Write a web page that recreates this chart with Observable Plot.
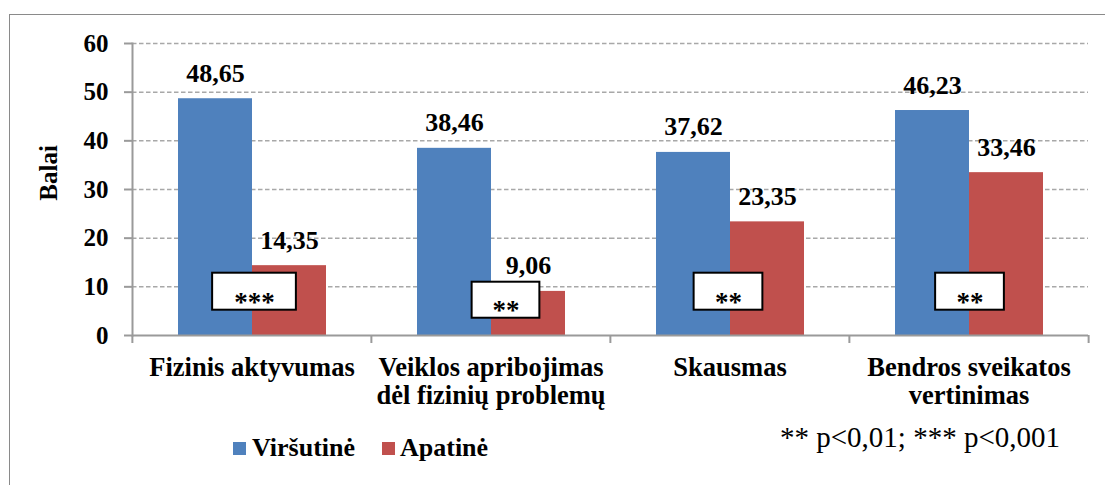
<!DOCTYPE html>
<html>
<head>
<meta charset="utf-8">
<script src="https://cdn.jsdelivr.net/npm/d3@7"></script>
<script src="https://cdn.jsdelivr.net/npm/@observablehq/plot@0.6"></script>
<style>
  html, body { margin: 0; padding: 0; background: #fff; overflow: hidden; }
  #wrap { position: relative; width: 1105px; height: 485px; overflow: hidden; background: #fff;
          font-family: 'Liberation Serif', serif; color: #000; }
  #frame { position: absolute; left: 9px; top: 14px; width: 1200px; height: 600px;
           border: 1.5px solid #8a8a8a; box-sizing: border-box; }
  #chart { position: absolute; left: 0; top: 0; }
  .leg { position: absolute; font-weight: bold; font-size: 26px; line-height: 26px; white-space: nowrap; }
  .sw { position: absolute; width: 13px; height: 13px; }
  #note { position: absolute; left: 780px; top: 423px; font-size: 29px; line-height: 29px; white-space: nowrap; }
</style>
</head>
<body>
<div id="wrap">
  <div id="frame"></div>
  <div id="chart"></div>
  <div id="legend"></div>
  <div id="note"></div>
</div>
<script>
// ---- data ----
const categories = ["Fizinis aktyvumas", "Veiklos apribojimas dėl fizinių problemų", "Skausmas", "Bendros sveikatos vertinimas"];
const catLabels = ["Fizinis aktyvumas", "Veiklos apribojimas\ndėl fizinių problemų", "Skausmas", "Bendros sveikatos\nvertinimas"];
const series = ["Viršutinė", "Apatinė"];
const upper = [48.65, 38.46, 37.62, 46.23];
const lower = [14.35, 9.06, 23.35, 33.46];
const sigLabels = ["***", "**", "**", "**"];
const yTicks = [0, 10, 20, 30, 40, 50, 60];
const yLabel = "Balai";
const footnote = "** p<0,01; *** p<0,001";

// ---- layout / style ----
const W = 1105, H = 485;
const mL = 131, mR = 17, mT = 43, mB = 150;
const colors = ["#4F81BD", "#C0504D"];
const axisGray = "#9a9a9a";
const FONT = "'Liberation Serif', serif";
const bw = (W - mL - mR) / categories.length;
const boxDx = [2.5, 15, -1.5, 1];
const boxHalfW = [42, 34, 34.5, 34.5];
const boxY1 = [5.2, 3.55, 5.2, 5.2];
const boxY2 = [12.8, 10.95, 12.8, 12.8];
const yLabelAt = 27.7; // vertical centre of the axis title, in value units

const data = [];
categories.forEach((c, i) => {
  data.push({cat: c, series: series[0], value: upper[i]});
  data.push({cat: c, series: series[1], value: lower[i]});
});
const sigData = categories.map((c, i) => ({cat: c, mark: sigLabels[i]}));
const fmt = v => d3.format(".2f")(v).replace(".", ",");

const boxMarks = [];
sigData.forEach((d, i) => {
  boxMarks.push(Plot.rect([d], {
    fx: "cat", y1: boxY1[i], y2: boxY2[i],
    insetLeft: bw / 2 + boxDx[i] - boxHalfW[i],
    insetRight: bw / 2 - boxDx[i] - boxHalfW[i],
    fill: "white", stroke: "black", strokeWidth: 2
  }));
  boxMarks.push(Plot.text([d], {
    fx: "cat", y: boxY1[i], text: "mark", dx: boxDx[i], lineAnchor: "bottom", dy: 1,
    fontSize: 27, fontWeight: "bold", fill: "black", fontFamily: FONT
  }));
});

const chart = Plot.plot({
  width: W, height: H,
  marginLeft: mL, marginRight: mR, marginTop: mT, marginBottom: mB,
  style: {fontFamily: FONT, background: "transparent", overflow: "visible"},
  fx: {domain: categories, paddingInner: 0, paddingOuter: 0},
  x: {domain: series, paddingInner: 0, paddingOuter: 0.606, axis: null},
  y: {domain: [0, 60]},
  color: {domain: series, range: colors},
  marks: [
    Plot.ruleY(yTicks.filter(v => v > 0), {stroke: "#a8a8a8", strokeWidth: 1.5, strokeDasharray: "4.5,2.5"}),
    Plot.barY(data, {fx: "cat", x: "series", y: "value", fill: "series"}),
    Plot.ruleY([0], {stroke: axisGray, strokeWidth: 2}),
    Plot.frame({anchor: "left", facetAnchor: "left", stroke: axisGray, strokeWidth: 2}),
    Plot.axisY({ticks: yTicks, tickSize: 8, tickPadding: 16, fontSize: 25, fontWeight: "bold", fontFamily: FONT,
                stroke: axisGray, strokeWidth: 2, fill: "black", label: null}),
    Plot.axisFx({anchor: "bottom", tickSize: 8, tickFormat: () => "", dx: -bw / 2, stroke: axisGray, strokeWidth: 2, label: null}),
    Plot.axisFx({anchor: "bottom", ticks: [categories[categories.length - 1]], tickSize: 8, tickFormat: () => "", dx: bw / 2, stroke: axisGray, strokeWidth: 2, label: null}),
    Plot.axisFx({anchor: "bottom", tickSize: 0, tickPadding: 20, fontSize: 26.5, fontWeight: "bold", fill: "black", fontFamily: FONT,
                 lineHeight: 1.07, label: null, tickFormat: d => catLabels[categories.indexOf(d)]}),
    Plot.text(data, {fx: "cat", x: "series", y: "value", text: d => fmt(d.value), lineAnchor: "bottom", dy: -17,
                     fontSize: 26, fontWeight: "bold", fill: "black", fontFamily: FONT}),
    ...boxMarks,
    Plot.text([yLabel], {fx: () => categories[0], y: () => yLabelAt, frameAnchor: "left", rotate: -90, dx: -76,
                         lineAnchor: "bottom", fontSize: 25, fontWeight: "bold", fill: "black", fontFamily: FONT})
  ]
});
document.getElementById("chart").appendChild(chart);

const legend = document.getElementById("legend");
const swLeft = [233, 382], txLeft = [252, 400];
series.forEach((s, i) => {
  const sw = document.createElement("div");
  sw.className = "sw";
  sw.style.left = swLeft[i] + "px"; sw.style.top = "442px"; sw.style.background = colors[i];
  legend.appendChild(sw);
  const t = document.createElement("div");
  t.className = "leg";
  t.style.left = txLeft[i] + "px"; t.style.top = "435px";
  t.textContent = s;
  legend.appendChild(t);
});
document.getElementById("note").textContent = footnote;
</script>
</body>
</html>
